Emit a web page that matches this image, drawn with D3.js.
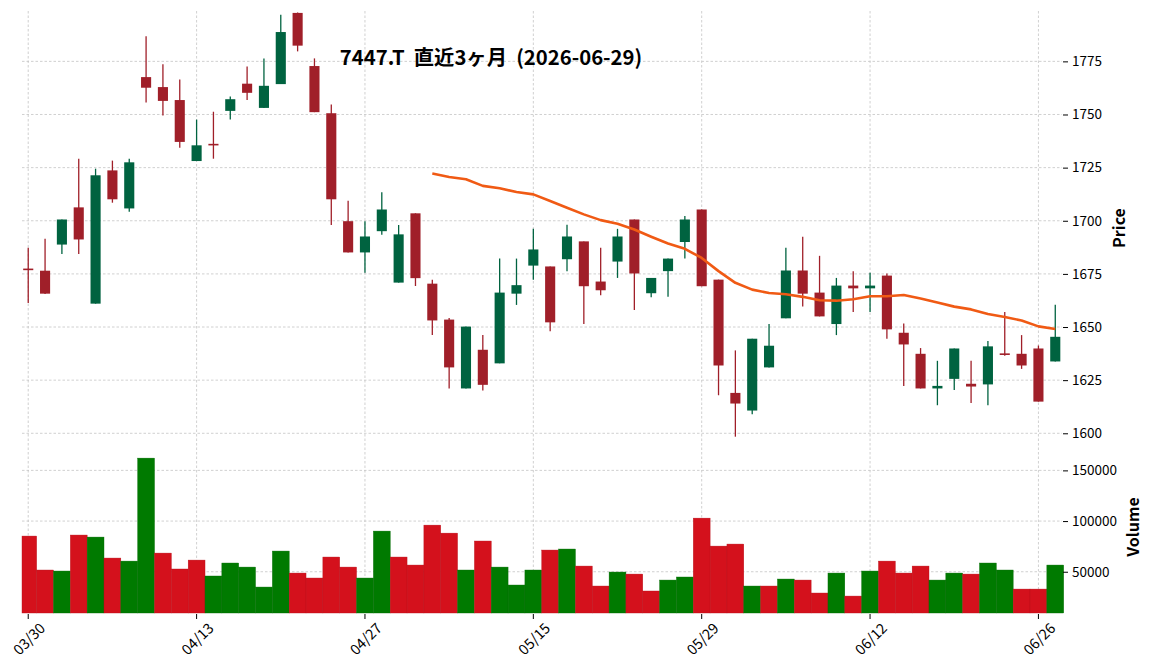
<!DOCTYPE html>
<html>
<head>
<meta charset="utf-8">
<script src="https://cdn.jsdelivr.net/npm/d3@7"></script>
<style>
   body { margin: 0; background: #ffffff; }
   text { font-family: 'Noto Sans CJK JP', 'Noto Sans', sans-serif; }
</style>
</head>
<body>
<div id="chart"></div>
<script>
// CHART VALUES
var opens = [1677.5,1676.5,1688.8,1706.3,1661,1723.7,1705.8,1767.6,1762.9,1756.8,1728.1,1736.2,1751.7,1764.5,1753.1,1764.3,1797.8,1772.8,1750.6,1699.8,1685.1,1695.1,1670.9,1703.5,1670.4,1653.5,1621.1,1639.3,1632.9,1665.7,1678.9,1678.5,1681.9,1690.3,1671.4,1680.8,1700.6,1665.9,1676.3,1690,1705.3,1672.3,1619,1610.7,1631,1654.1,1676.6,1666.2,1651.4,1669.5,1668.2,1674.2,1647.3,1637.4,1621.1,1625.6,1623.3,1623,1637.6,1637.4,1639.9,1633.8];
var highs = [1687.3,1691.5,1700.6,1729.2,1724.5,1728.3,1729.2,1786.8,1773.6,1766.5,1747.6,1751.3,1758.5,1772.6,1776.4,1796.9,1798,1776.4,1754.7,1709.4,1699.8,1713.4,1698,1703.5,1672.2,1654.2,1650.2,1646.2,1682.2,1682.2,1696.2,1678.5,1698.1,1690.3,1687.3,1696.2,1700.6,1673.1,1682.2,1702.2,1705.3,1672.3,1639,1644.5,1651.4,1687.3,1692.5,1683.5,1673.1,1676.3,1675.5,1675.2,1651.6,1640.1,1634.1,1639.9,1634.1,1643.4,1657.1,1646.2,1641.3,1660.5];
var lows = [1661.3,1665.5,1684.4,1684.4,1661,1708.5,1704.2,1755.7,1749.5,1734.4,1728.1,1729.2,1747.6,1756.8,1753.1,1764.3,1779.7,1751.1,1698,1685.1,1675.5,1693.4,1670.9,1669.3,1646.2,1621.1,1621.1,1620.1,1632.9,1660.4,1672.2,1648,1676.3,1651.4,1664.9,1673.1,1658,1664,1664.3,1682.2,1669.2,1617.9,1598.4,1609,1631,1654.1,1659.6,1655,1646.2,1657.1,1657.1,1644.5,1622.2,1621.1,1613.2,1620.4,1614.2,1613.2,1636.5,1630.3,1614.9,1633.8];
var closes = [1677,1665.7,1700.6,1691.2,1721.4,1710.1,1727.5,1762.6,1756.4,1737.1,1735.5,1736,1757.2,1760.2,1763.5,1788.8,1782.4,1751.1,1710.1,1685.1,1692.6,1705.3,1693.6,1673,1653.1,1631,1650.2,1622.8,1666.2,1669.7,1686.5,1652.2,1692.6,1669.2,1667.3,1692.6,1675.2,1673.1,1682.2,1700.6,1669.2,1631.9,1614,1644.5,1641.2,1676.6,1665.7,1655,1669.5,1668.2,1669.5,1648.9,1641.8,1621.1,1622.3,1639.9,1622,1640.9,1637.2,1631.9,1614.9,1645.4];
var volumes = [85200,51700,50700,86200,84200,63500,60500,162100,68400,52700,61500,45800,58600,54600,34900,70400,48700,43800,64500,54600,43800,90100,64500,56600,96000,88100,51700,80300,54600,36900,51700,71400,72400,55600,35900,49700,47700,31000,41800,44800,102900,75300,77300,35900,35900,42800,41800,29000,48700,26000,50700,60500,48700,55600,41800,48700,47700,58600,51700,32900,32900,56600];
var volumeDir = ['d','d','u','d','u','d','u','u','d','d','d','u','u','u','u','u','d','d','d','d','u','u','d','d','d','d','u','d','u','u','u','d','u','d','d','u','d','d','u','u','d','d','d','u','d','u','d','d','u','d','u','d','d','d','u','u','d','u','u','d','d','u'];
// 25 DAY MOVING AVERAGE, STARTS AT CANDLE 24
var maStart = 24;
var maValues = [1722.2,1720.6,1719.5,1716.4,1715.3,1713.5,1712.4,1709.3,1706.1,1703,1700.3,1698.6,1695.9,1692.5,1689.3,1686.8,1682.5,1676.3,1670.8,1667.6,1666,1665.4,1664.2,1662.6,1662.4,1663.1,1664.5,1664.5,1665.1,1663.4,1661.5,1659.6,1658.3,1656.1,1654.7,1653.1,1650.3,1649.1];
var tickIndex = [0, 10, 20, 30, 40, 50, 60];
var tickLabels = ['03/30', '04/13', '04/27', '05/15', '05/29', '06/12', '06/26'];
var priceTicks = [1600, 1625, 1650, 1675, 1700, 1725, 1750, 1775];
var volumeTicks = [50000, 100000, 150000];
var title = '7447.T  直近3ヶ月  (2026-06-29)';

// SETTINGS OBJECT
var settings = {
   width: 1152,
   height: 670,
   left: 22,
   right: 1062,
   price: { top: 11, bottom: 442 },
   volume: { top: 442, bottom: 613 },
   candle: { up: '#006340', down: '#a01f29', body: 0.6, wick: 1.3 },
   bars: { up: '#007a00', down: '#d4111c' },
   ma: '#f05a14',
   grid: '#c4c4c4',
   font: 13.5
}

// SCALES
var xScale = d3.scaleLinear()
   .domain([-0.37, 61.4])
   .range([settings.left, settings.right])

var step = xScale(1) - xScale(0);

var yPrice = d3.scaleLinear()
   .domain([1595.9, 1798.7])
   .range([settings.price.bottom, settings.price.top])

var yVolume = d3.scaleLinear()
   .domain([9300, 178000])
   .range([settings.volume.bottom, settings.volume.top])

// CANVAS
var canvas = d3.select('#chart').append('svg')
   .attr('width', settings.width)
   .attr('height', settings.height)

canvas.append('rect')
   .attr('width', settings.width)
   .attr('height', settings.height)
   .attr('fill', '#ffffff')

// GRID LINES
var grid = canvas.append('g')
   .attr('stroke', settings.grid)
   .attr('stroke-width', 0.8)
   .attr('stroke-dasharray', '2.5,2')

grid.selectAll('.hp').data(priceTicks).enter()
   .append('line')
   .attr('x1', settings.left).attr('x2', settings.right)
   .attr('y1', (d) => { return yPrice(d); })
   .attr('y2', (d) => { return yPrice(d); })

grid.selectAll('.hv').data(volumeTicks).enter()
   .append('line')
   .attr('x1', settings.left).attr('x2', settings.right)
   .attr('y1', (d) => { return yVolume(d); })
   .attr('y2', (d) => { return yVolume(d); })

grid.selectAll('.vx').data(tickIndex).enter()
   .append('line')
   .attr('x1', (d) => { return xScale(d); })
   .attr('x2', (d) => { return xScale(d); })
   .attr('y1', settings.price.top)
   .attr('y2', settings.volume.bottom)

// CANDLES
var candles = canvas.selectAll('.candle').data(opens).enter()
   .append('g')
   .attr('fill', (d, i) => { return closes[i] >= opens[i] ? settings.candle.up : settings.candle.down; })
   .attr('stroke', (d, i) => { return closes[i] >= opens[i] ? settings.candle.up : settings.candle.down; })

candles.append('line')
   .attr('x1', (d, i) => { return xScale(i); })
   .attr('x2', (d, i) => { return xScale(i); })
   .attr('y1', (d, i) => { return yPrice(highs[i]); })
   .attr('y2', (d, i) => { return yPrice(lows[i]); })
   .attr('stroke-width', settings.candle.wick)

candles.append('rect')
   .attr('stroke', 'none')
   .attr('x', (d, i) => { return xScale(i) - step * settings.candle.body / 2; })
   .attr('width', step * settings.candle.body)
   .attr('y', (d, i) => { return yPrice(Math.max(opens[i], closes[i])); })
   .attr('height', (d, i) => { return Math.max(1.6, Math.abs(yPrice(opens[i]) - yPrice(closes[i]))); })

// MOVING AVERAGE
var pathify = d3.line()
   .x((d, i) => { return xScale(maStart + i); })
   .y((d) => { return yPrice(d); })

canvas.append('path')
   .attr('d', pathify(maValues))
   .attr('fill', 'none')
   .attr('stroke', settings.ma)
   .attr('stroke-width', 2.6)
   .attr('stroke-linejoin', 'round')

// VOLUME BARS
canvas.selectAll('.vol').data(volumes).enter()
   .append('rect')
   .attr('x', (d, i) => { return Math.max(settings.left, xScale(i) - step / 2); })
   .attr('width', (d, i) => { return xScale(i) + step / 2 - Math.max(settings.left, xScale(i) - step / 2); })
   .attr('y', (d) => { return yVolume(d); })
   .attr('height', (d) => { return settings.volume.bottom - yVolume(d); })
   .attr('fill', (d, i) => { return volumeDir[i] == 'u' ? settings.bars.up : settings.bars.down; })
   .attr('stroke', (d, i) => { return volumeDir[i] == 'u' ? '#006a00' : '#b80f19'; })
   .attr('stroke-width', 0.4)

// RIGHT AXES
var priceAxis = d3.axisRight(yPrice).tickValues(priceTicks).tickSize(5).tickPadding(4).tickFormat(d3.format('d'));
var volumeAxis = d3.axisRight(yVolume).tickValues(volumeTicks).tickSize(5).tickPadding(4).tickFormat(d3.format('d'));

canvas.append('g')
   .attr('transform', 'translate(' + (settings.right + 1) + ',0)')
   .call(priceAxis)
   .call((g) => g.select('.domain').remove())

canvas.append('g')
   .attr('transform', 'translate(' + (settings.right + 1) + ',0)')
   .call(volumeAxis)
   .call((g) => g.select('.domain').remove())

canvas.selectAll('.tick text')
   .attr('font-family', "'Noto Sans CJK JP', sans-serif")
   .attr('font-size', settings.font)
   .attr('fill', '#000')

// BOTTOM TICKS
var xTicks = canvas.selectAll('.xt').data(tickIndex).enter().append('g')

xTicks.append('line')
   .attr('x1', (d) => { return xScale(d); })
   .attr('x2', (d) => { return xScale(d); })
   .attr('y1', settings.volume.bottom + 1)
   .attr('y2', settings.volume.bottom + 6)
   .attr('stroke', '#000')

xTicks.append('text')
   .attr('transform', (d) => { return 'translate(' + xScale(d) + ',' + 638 + ') rotate(-45)'; })
   .attr('text-anchor', 'middle')
   .attr('dominant-baseline', 'central')
   .attr('font-size', 14.5)
   .text((d, i) => { return tickLabels[i]; })

// AXIS LABELS
canvas.append('text')
   .attr('transform', 'translate(1118,228) rotate(-90)')
   .attr('text-anchor', 'middle')
   .attr('dominant-baseline', 'central')
   .attr('font-size', 16)
   .attr('font-weight', 'bold')
   .text('Price')

canvas.append('text')
   .attr('transform', 'translate(1132,527) rotate(-90)')
   .attr('text-anchor', 'middle')
   .attr('dominant-baseline', 'central')
   .attr('font-size', 16)
   .attr('font-weight', 'bold')
   .text('Volume')

// TITLE
canvas.append('text')
   .attr('x', 491)
   .attr('y', 56)
   .attr('text-anchor', 'middle')
   .attr('dominant-baseline', 'central')
   .attr('font-size', 20.3)
   .attr('font-weight', 'bold')
   .attr('xml:space', 'preserve')
   .style('white-space', 'pre')
   .text(title)
</script>
</body>
</html>
